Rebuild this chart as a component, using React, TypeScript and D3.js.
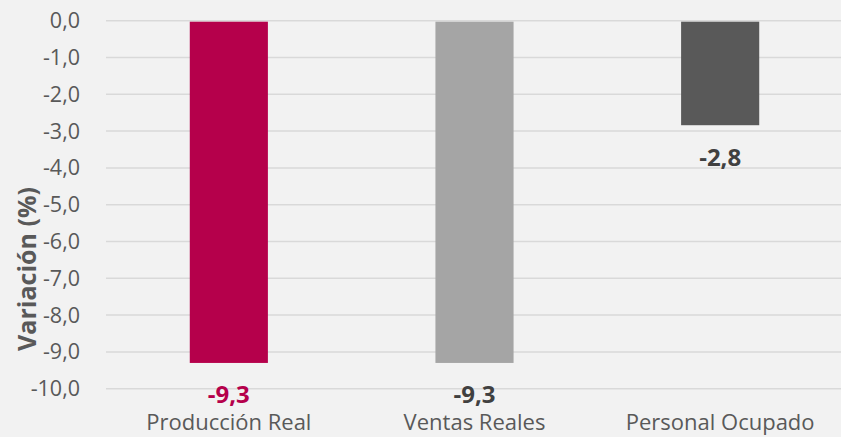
import React from "react";
import * as d3 from "d3";

const categories = ["Producción Real", "Ventas Reales", "Personal Ocupado"];
const values = [-9.3, -9.3, -2.84];
const barColors = ["#B5004B", "#A5A5A5", "#595959"];
const labelColors = ["#B5004B", "#404040", "#404040"];
const yTicks = [0, -1, -2, -3, -4, -5, -6, -7, -8, -9, -10];

const W = 841;
const H = 437;
const FONT = "'Open Sans', 'Noto Sans', sans-serif";

export default function App() {
  const x = d3.scaleBand<string>().domain(categories).range([106, 843]).paddingInner(0.682).paddingOuter(0.341);
  const y = d3.scaleLinear().domain([0, -10]).range([20.7, 388.7]);
  const fmt = (v: number) => v.toFixed(1).replace(".", ",");

  return (
    <svg width={W} height={H} style={{ position: "absolute", left: 0, top: 0, background: "#F2F2F2" }}>
      <rect x={0} y={0} width={W} height={H} fill="#F2F2F2" />
      {yTicks.map((t) => (
        <g key={t}>
          <line x1={106} x2={W} y1={y(t)} y2={y(t)} stroke="#D9D9D9" strokeWidth={1.5} />
          <text x={80} y={y(t)} dy="0.35em" textAnchor="end" fontFamily={FONT} fontSize={21.5} fill="#595959">
            {fmt(t)}
          </text>
        </g>
      ))}
      {categories.map((c, i) => {
        const bx = x(c)!;
        const bw = x.bandwidth();
        const top = y(Math.max(0, values[i]));
        const bot = y(Math.min(0, values[i]));
        return (
          <g key={c}>
            <rect x={bx} y={top + 1} width={bw} height={bot - top - 1} fill={barColors[i]} />
            <text x={bx + bw / 2} y={bot + 32} dy="0.35em" textAnchor="middle" fontFamily={FONT} fontWeight="bold" fontSize={24} fill={labelColors[i]}>
              {fmt(values[i])}
            </text>
            <text x={bx + bw / 2} y={422.5} dy="0.35em" textAnchor="middle" fontFamily={FONT} fontSize={22} fill="#595959">
              {c}
            </text>
          </g>
        );
      })}
      <text transform={`translate(27,269) rotate(-90)`} dy="0.35em" textAnchor="middle" fontFamily={FONT} fontWeight="bold" fontSize={25} fill="#595959">
        Variación (%)
      </text>
    </svg>
  );
}
